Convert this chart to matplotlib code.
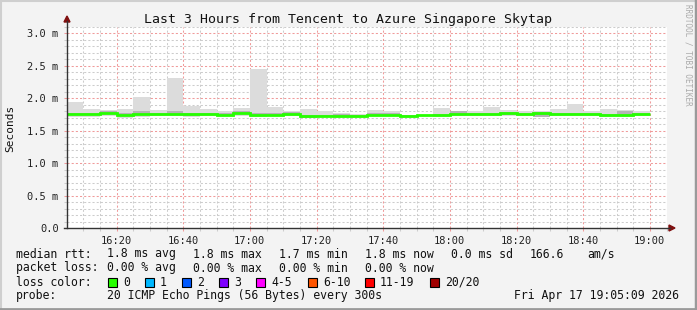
import numpy as np
import matplotlib.pyplot as plt
from matplotlib.patches import Polygon, Rectangle
from matplotlib.lines import Line2D

# ---- data (minutes after 16:00, one bin per 5 min) ----
bin_edges = list(range(5, 181, 5))   # 16:05 ... 19:00
median = [1.76, 1.76, 1.78, 1.75, 1.76, 1.76, 1.76, 1.76, 1.76, 1.75, 1.78, 1.75,
          1.75, 1.76, 1.73, 1.73, 1.72, 1.72, 1.75, 1.75, 1.73, 1.74, 1.74, 1.76,
          1.76, 1.76, 1.77, 1.76, 1.775, 1.76, 1.76, 1.76, 1.74, 1.74, 1.76]
smoke_max = [1.94, 1.83, 1.815, 1.83, 2.015, 1.815, 2.31, 1.88, 1.83, 1.80, 1.85, 2.45,
             1.87, 1.81, 1.84, 1.81, 1.78, 1.76, 1.82, 1.805, 1.75, 1.75, 1.85, 1.81,
             1.80, 1.87, 1.82, 1.81, 1.80, 1.84, 1.91, 1.81, 1.83, 1.82, 1.80]
smoke_min = [1.71, 1.71, 1.73, 1.70, 1.71, 1.72, 1.72, 1.71, 1.72, 1.72, 1.73, 1.71,
             1.72, 1.72, 1.70, 1.71, 1.70, 1.70, 1.72, 1.72, 1.70, 1.72, 1.71, 1.73,
             1.73, 1.72, 1.73, 1.72, 1.71, 1.72, 1.72, 1.72, 1.71, 1.71, 1.72]
inner_hi = [1.78, 1.78, 1.81, 1.77, 1.80, 1.78, 1.80, 1.78, 1.78, 1.77, 1.80, 1.77,
            1.78, 1.79, 1.75, 1.75, 1.76, 1.74, 1.77, 1.77, 1.75, 1.75, 1.76, 1.80,
            1.78, 1.78, 1.79, 1.78, 1.79, 1.78, 1.78, 1.78, 1.76, 1.80, 1.78]
inner_lo = [1.74, 1.74, 1.76, 1.73, 1.74, 1.74, 1.74, 1.73, 1.74, 1.73, 1.76, 1.73,
            1.73, 1.74, 1.70, 1.71, 1.71, 1.71, 1.73, 1.73, 1.71, 1.73, 1.72, 1.75,
            1.74, 1.74, 1.75, 1.74, 1.71, 1.74, 1.74, 1.74, 1.72, 1.73, 1.74]

x_ticks = [20, 40, 60, 80, 100, 120, 140, 160, 180]
x_labels = ["16:20", "16:40", "17:00", "17:20", "17:40", "18:00", "18:20", "18:40", "19:00"]
y_ticks = [0.0, 0.5, 1.0, 1.5, 2.0, 2.5, 3.0]
y_labels = ["0.0", "0.5 m", "1.0 m", "1.5 m", "2.0 m", "2.5 m", "3.0 m"]

loss_labels = ["0", "1", "2", "3", "4-5", "6-10", "11-19", "20/20"]
loss_colors = ["#26ff00", "#00b8ff", "#0059ff", "#7e00ff", "#ff00ff", "#ff5500", "#ff0000", "#a10000"]

W, H = 697, 310
MONO = "DejaVu Sans Mono"
GRID_MINOR = "#cccccc"
GRID_MAJOR = "#f09a9a"


def fx(px):
    return px / W


def fy(py):
    return 1 - py / H


fig = plt.figure(figsize=(W / 100, H / 100), dpi=100, facecolor="#f3f3f3")
ax = fig.add_axes([fx(67), fy(228), 600 / W, 201 / H])
ax.set_facecolor("white")

t0 = 5 + 9 / 60   # 16:05:09
ax.set_xlim(t0, t0 + 180)
ax.set_ylim(0, 201 / 65)

# grid
for m in range(10, 186, 5):
    major = m % 20 == 0
    ax.axvline(m, color=GRID_MAJOR if major else GRID_MINOR, lw=0.75,
               ls=(0, (2, 2)), zorder=0)
for v in np.arange(0.1, 3.15, 0.1):
    major = abs(v * 2 - round(v * 2)) < 1e-6
    ax.axhline(v, color=GRID_MAJOR if major else GRID_MINOR, lw=0.75,
               ls=(0, (2, 2)), zorder=0)

# smoke and median
ax.stairs(smoke_max, bin_edges, baseline=smoke_min, fill=True, color="#dcdcdc", zorder=2)
ax.stairs(inner_hi, bin_edges, baseline=inner_lo, fill=True, color="#b4b4b4", zorder=3)
ax.stairs(median, bin_edges, baseline=None, color=loss_colors[0], lw=2.0, zorder=4)

ax.set_xticks(x_ticks)
ax.set_xticklabels(x_labels, fontfamily=MONO, fontsize=7.5)
ax.set_yticks(y_ticks)
ax.set_yticklabels(y_labels, fontfamily=MONO, fontsize=7.5)
ax.set_xticks(range(10, 186, 5), minor=True)
ax.set_yticks(np.arange(0.1, 3.15, 0.1), minor=True)
ax.tick_params(which="major", length=2, width=0.75, pad=4, color=GRID_MAJOR,
               labelcolor="#222222")
ax.tick_params(which="minor", length=2, width=0.75, color=GRID_MINOR)
for s in ax.spines.values():
    s.set_visible(False)

# axis lines with arrows
axcol = "#333333"
fig.add_artist(Line2D([fx(67), fx(67)], [fy(228), fy(21)], color=axcol, lw=1))
fig.add_artist(Line2D([fx(64), fx(670)], [fy(228), fy(228)], color=axcol, lw=1))
fig.add_artist(Polygon([[fx(64), fy(22)], [fx(70), fy(22)], [fx(67), fy(16)]],
                       closed=True, color="#801010"))
fig.add_artist(Polygon([[fx(669), fy(225)], [fx(669), fy(231)], [fx(675), fy(228)]],
                       closed=True, color="#801010"))

fig.text(fx(348), fy(19), "Last 3 Hours from Tencent to Azure Singapore Skytap",
         ha="center", va="center", fontfamily=MONO, fontsize=9.5, color="#111111")
fig.text(fx(10), fy(128), "Seconds", rotation=90, ha="center", va="center",
         fontfamily=MONO, fontsize=8, color="#111111")
fig.text(fx(688), fy(4), "RRDTOOL / TOBI OETIKER", rotation=-90, ha="center", va="top",
         fontfamily=MONO, fontsize=5.5, color="#aaaaaa")

# legend block
fs = 8.3
rows_y = [254, 268, 282, 296]
row1 = [(16, "median rtt:"), (107, "1.8 ms avg"), (193, "1.8 ms max"), (279, "1.7 ms min"),
        (365, "1.8 ms now"), (451, "0.0 ms sd"), (530, "166.6"), (587, "am/s")]
row2 = [(16, "packet loss:"), (107, "0.00 % avg"), (193, "0.00 % max"),
        (279, "0.00 % min"), (365, "0.00 % now")]
row4 = [(16, "probe:"), (107, "20 ICMP Echo Pings (56 Bytes) every 300s"),
        (514, "Fri Apr 17 19:05:09 2026")]
for row, yy in [(row1, rows_y[0]), (row2, rows_y[1]), (row4, rows_y[3])]:
    for xx, t in row:
        fig.text(fx(xx), fy(yy), t, ha="left", va="center", fontfamily=MONO,
                 fontsize=fs, color="#111111")

fig.text(fx(16), fy(rows_y[2]), "loss color:", ha="left", va="center",
         fontfamily=MONO, fontsize=fs, color="#111111")
box_x = [108, 145, 182, 219, 256, 308, 365, 430]
for bx, lab, col in zip(box_x, loss_labels, loss_colors):
    fig.add_artist(Rectangle((fx(bx), fy(rows_y[2] + 4.5)), 9 / W, 9 / H,
                             facecolor=col, edgecolor="black", lw=0.8))
    fig.text(fx(bx + 15), fy(rows_y[2]), lab, ha="left", va="center",
             fontfamily=MONO, fontsize=fs, color="#111111")

# 3d frame
fig.add_artist(Line2D([0, 1], [fy(0.5), fy(0.5)], color="#cfcfcf", lw=1.5))
fig.add_artist(Line2D([fx(0.5), fx(0.5)], [0, 1], color="#cfcfcf", lw=1.5))
fig.add_artist(Line2D([0, 1], [fy(309), fy(309)], color="#9a9a9a", lw=2))
fig.add_artist(Line2D([fx(696), fx(696)], [0, 1], color="#9a9a9a", lw=2.5))

fig.savefig("out.png", dpi=100, facecolor=fig.get_facecolor())
